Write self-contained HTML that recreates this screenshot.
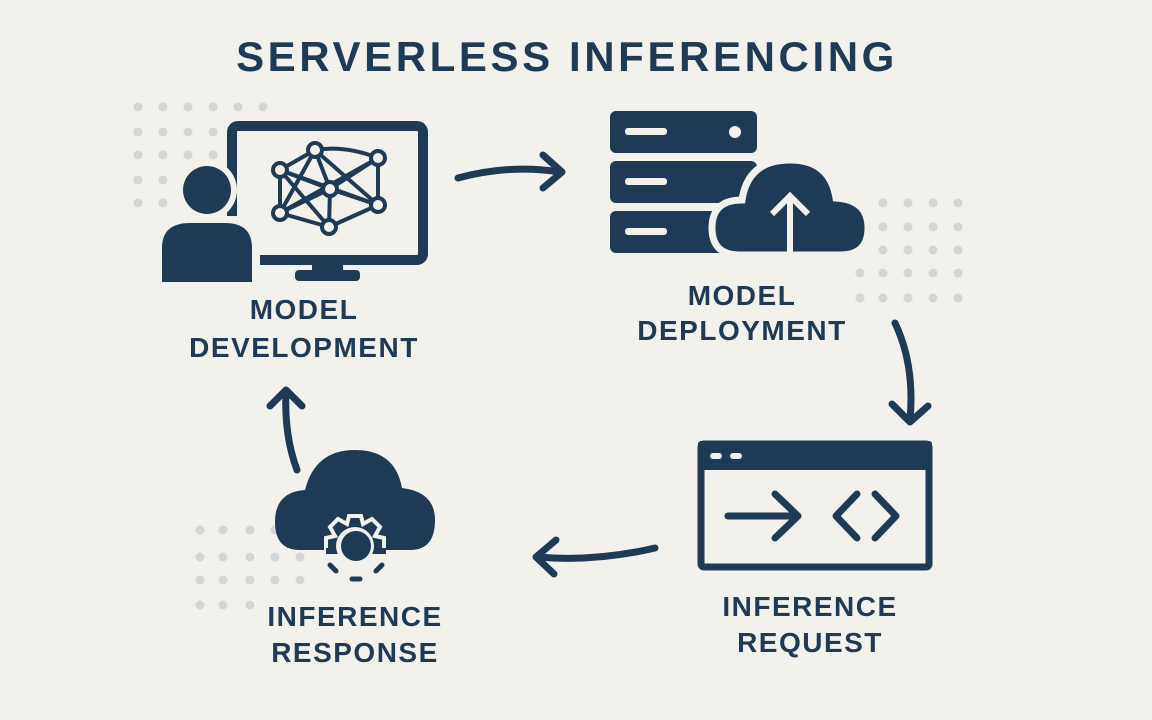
<!DOCTYPE html>
<html><head><meta charset="utf-8"><style>
html,body{margin:0;padding:0;background:#f3f1ec;}
svg{display:block}
text{font-family:"Liberation Sans",Arial,sans-serif;font-weight:bold;fill:#1f3a55;text-anchor:middle}
</style></head><body>
<svg width="1152" height="720" viewBox="0 0 1152 720" xmlns="http://www.w3.org/2000/svg">
<rect width="1152" height="720" fill="#f3f1ec"/>
<g fill="#d2d6d8">
<circle cx="138" cy="107" r="4.5"/><circle cx="163" cy="107" r="4.5"/><circle cx="188" cy="107" r="4.5"/><circle cx="213" cy="107" r="4.5"/><circle cx="238" cy="107" r="4.5"/><circle cx="263" cy="107" r="4.5"/>
<circle cx="138" cy="132" r="4.5"/><circle cx="163" cy="132" r="4.5"/><circle cx="188" cy="132" r="4.5"/><circle cx="213" cy="132" r="4.5"/>
<circle cx="138" cy="155" r="4.5"/><circle cx="163" cy="155" r="4.5"/><circle cx="188" cy="155" r="4.5"/><circle cx="213" cy="155" r="4.5"/>
<circle cx="138" cy="180" r="4.5"/><circle cx="163" cy="180" r="4.5"/>
<circle cx="138" cy="203" r="4.5"/><circle cx="163" cy="203" r="4.5"/>
<circle cx="883" cy="203" r="4.5"/><circle cx="908" cy="203" r="4.5"/><circle cx="933" cy="203" r="4.5"/><circle cx="958" cy="203" r="4.5"/>
<circle cx="883" cy="227" r="4.5"/><circle cx="908" cy="227" r="4.5"/><circle cx="933" cy="227" r="4.5"/><circle cx="958" cy="227" r="4.5"/>
<circle cx="883" cy="250" r="4.5"/><circle cx="908" cy="250" r="4.5"/><circle cx="933" cy="250" r="4.5"/><circle cx="958" cy="250" r="4.5"/>
<circle cx="860" cy="273" r="4.5"/><circle cx="883" cy="273" r="4.5"/><circle cx="908" cy="273" r="4.5"/><circle cx="933" cy="273" r="4.5"/><circle cx="958" cy="273" r="4.5"/>
<circle cx="860" cy="298" r="4.5"/><circle cx="883" cy="298" r="4.5"/><circle cx="908" cy="298" r="4.5"/><circle cx="933" cy="298" r="4.5"/><circle cx="958" cy="298" r="4.5"/>
<circle cx="200" cy="530" r="4.5"/><circle cx="223" cy="530" r="4.5"/><circle cx="250" cy="530" r="4.5"/><circle cx="275" cy="530" r="4.5"/>
<circle cx="200" cy="557" r="4.5"/><circle cx="223" cy="557" r="4.5"/><circle cx="250" cy="557" r="4.5"/><circle cx="275" cy="557" r="4.5"/><circle cx="300" cy="557" r="4.5"/>
<circle cx="200" cy="580" r="4.5"/><circle cx="223" cy="580" r="4.5"/><circle cx="250" cy="580" r="4.5"/><circle cx="275" cy="580" r="4.5"/><circle cx="300" cy="580" r="4.5"/>
<circle cx="200" cy="605" r="4.5"/><circle cx="223" cy="605" r="4.5"/><circle cx="250" cy="605" r="4.5"/>
</g>
<text x="567" y="71" font-size="42" letter-spacing="3.6">SERVERLESS INFERENCING</text>

<!-- monitor -->
<g fill="#1f3a55" stroke="none">
<rect x="232" y="126" width="191" height="134" rx="6" fill="none" stroke="#1f3a55" stroke-width="10"/>
<rect x="312" y="257" width="31" height="18"/>
<rect x="295" y="270" width="65" height="11" rx="4"/>
</g>
<g stroke="#1f3a55" stroke-width="4" fill="none">
<path d="M315 150 Q345 145 378 158 M315 150 L280 170 M315 150 L330 189 M315 150 L280 213 M315 150 L378 205 M378 158 L330 189 M378 158 L280 213 M378 158 L378 205 M280 170 L330 189 M280 170 L378 205 M280 170 L329 227 M280 170 L280 213 M330 189 L280 213 M330 189 L378 205 M330 189 L329 227 M280 213 L329 227 M378 205 L329 227"/>
</g>
<g fill="#f3f1ec" stroke="#1f3a55" stroke-width="4">
<circle cx="315" cy="150" r="7"/><circle cx="378" cy="158" r="7"/><circle cx="280" cy="170" r="7"/><circle cx="330" cy="189" r="7"/><circle cx="280" cy="213" r="7"/><circle cx="378" cy="205" r="7"/><circle cx="329" cy="227" r="7"/>
</g>
<!-- person -->
<circle cx="207" cy="190" r="30" fill="#f3f1ec"/>
<rect x="154" y="216" width="106" height="72" rx="24" fill="#f3f1ec"/>
<circle cx="207" cy="190" r="24" fill="#1f3a55"/>
<path d="M162 282 L162 248 Q162 223 190 223 L225 223 Q252 223 252 248 L252 282 Z" fill="#1f3a55"/>
<text x="304" y="319" font-size="28" letter-spacing="1.5">MODEL</text>
<text x="304" y="357" font-size="28" letter-spacing="1.5">DEVELOPMENT</text>

<!-- servers -->
<g fill="#1f3a55">
<rect x="610" y="111" width="147" height="42" rx="6"/>
<rect x="610" y="161" width="147" height="42" rx="6"/>
<rect x="610" y="211" width="147" height="42" rx="6"/>
</g>
<g fill="#f3f1ec">
<rect x="625" y="128" width="42" height="7" rx="3"/><circle cx="735" cy="132" r="6"/>
<rect x="625" y="178" width="42" height="7" rx="3"/>
<rect x="625" y="228" width="42" height="7" rx="3"/>
</g>
<path d="M740 255 Q712 255 712 228 Q712 200 742 200 Q748 160 790 160 Q830 160 836 198 Q868 200 868 228 Q868 255 840 255 Z" fill="#1f3a55" stroke="#f3f1ec" stroke-width="7"/>
<path d="M790 252 L790 196 M772 214 L790 196 L808 214" stroke="#f3f1ec" stroke-width="6" fill="none"/>
<text x="742" y="305" font-size="28" letter-spacing="1.5">MODEL</text>
<text x="742" y="340" font-size="28" letter-spacing="1.5">DEPLOYMENT</text>

<!-- browser -->
<rect x="701" y="444" width="228" height="123" rx="3" fill="none" stroke="#1f3a55" stroke-width="7"/>
<rect x="698" y="441" width="234" height="29" rx="3" fill="#1f3a55"/>
<rect x="710" y="453" width="12" height="6" rx="3" fill="#f3f1ec"/>
<rect x="730" y="453" width="12" height="6" rx="3" fill="#f3f1ec"/>
<g stroke="#1f3a55" stroke-width="7" fill="none" stroke-linecap="round" stroke-linejoin="round">
<path d="M728 516 L798 516 M775 494 L798 516 L775 538"/>
<path d="M857 494 L836 516 L857 538"/>
<path d="M875 494 L896 516 L875 538"/>
</g>
<text x="810" y="616" font-size="28" letter-spacing="1.5">INFERENCE</text>
<text x="810" y="652" font-size="28" letter-spacing="1.5">REQUEST</text>

<!-- cloud gear -->
<path d="M300 550 Q275 550 275 522 Q275 492 305 490 Q315 450 355 450 Q395 450 402 488 Q435 492 435 520 Q435 550 410 550 Z" fill="#1f3a55"/>
<g stroke="#f3f1ec" stroke-width="4" fill="#1f3a55">
<path d="M349 516 L361 516 L363 524 L372 519 L380 527 L375 536 L384 538 L384 550 L326 550 L326 538 L335 536 L330 527 L338 519 L347 524 Z"/>
</g>
<rect x="326" y="548" width="60" height="6" fill="#1f3a55"/>
<circle cx="355" cy="546" r="19" fill="#f3f1ec"/>
<circle cx="356" cy="546" r="15" fill="#1f3a55"/>
<g stroke="#1f3a55" stroke-width="5" fill="none" stroke-linecap="round">
<path d="M330 565 L336 571 M352 579 L360 579 M376 571 L382 565"/>
</g>
<text x="355" y="626" font-size="28" letter-spacing="1.5">INFERENCE</text>
<text x="355" y="662" font-size="28" letter-spacing="1.5">RESPONSE</text>

<!-- arrows -->
<g stroke="#1f3a55" stroke-width="7" fill="none" stroke-linecap="round" stroke-linejoin="round">
<path d="M458 178 Q510 164 560 172"/><path d="M543 155 L562 172 L543 188"/>
<path d="M895 323 Q915 365 910 420"/><path d="M892 404 L910 422 L928 406"/>
<path d="M655 548 Q595 562 538 557"/><path d="M556 540 L536 557 L554 574"/>
<path d="M297 470 Q284 435 286 392"/><path d="M270 406 L286 390 L302 406"/>
</g>
</svg>
</body></html>
